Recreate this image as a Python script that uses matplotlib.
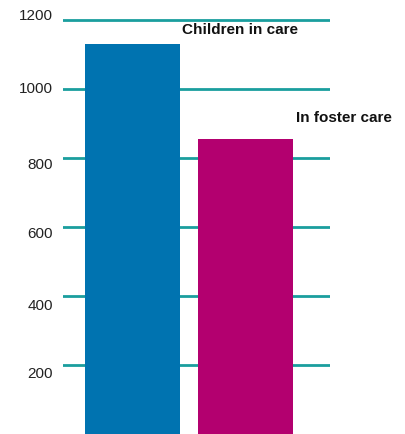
import matplotlib
matplotlib.use("Agg")
import matplotlib.pyplot as plt
import matplotlib.transforms as mtrans

categories = ["Children in care", "In foster care"]
values = [1130, 855]
colors = ["#0073B0", "#B3006F"]
yticks = [200, 400, 600, 800, 1000, 1200]

W, H = 405, 434
fig = plt.figure(figsize=(W / 100, H / 100), dpi=100)
ytop = 1229
ax_h_px = ytop * 0.3449
ax = fig.add_axes([63 / W, 0, (330 - 63) / W, ax_h_px / H])

x = list(range(len(categories)))
ax.bar(x, values, width=0.84, color=colors, zorder=3)

ax.set_xlim(-0.615, 1.748)
ax.set_ylim(0, ytop)
ax.set_yticks(yticks)
ax.set_yticklabels([str(t) for t in yticks], fontsize=11,
                   family="Liberation Sans", color="#222222")
ax.tick_params(axis="y", length=0, pad=7.2)
ax.set_xticks([])
for s in ax.spines.values():
    s.set_visible(False)
ax.grid(axis="y", color="#1A9E9E", linewidth=2, zorder=1)

# small vertical shifts of tick labels (pixels, downward positive) as in reference
shifts_px = [7, 8, 5, 5, -2, -6]
for lab, dy in zip(ax.get_yticklabels(), shifts_px):
    lab.set_transform(lab.get_transform() +
                      mtrans.ScaledTranslation(0, -dy / 100, fig.dpi_scale_trans))

label_pos = [(0.44, 1160), (1.447, 905)]
for (lx, ly), name in zip(label_pos, categories):
    ax.text(lx, ly, name, fontsize=11, fontweight="bold",
            family="Liberation Sans", va="baseline", ha="left",
            color="#111111", clip_on=False)

fig.savefig("out.png", dpi=100)
